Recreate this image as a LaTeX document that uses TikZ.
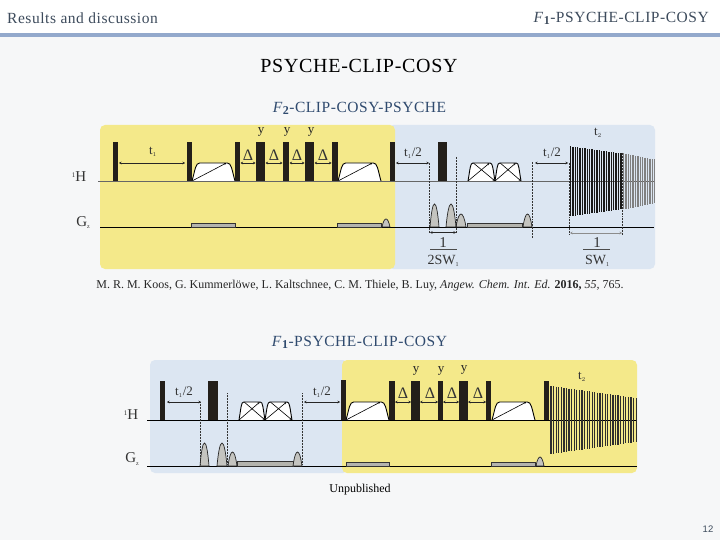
\documentclass[tikz,border=0pt]{standalone}
\usepackage{fontspec}
\usetikzlibrary{arrows.meta}
\setmainfont{Liberation Serif}
\newfontfamily\lsans{Liberation Sans}
\newfontfamily\spaced[LetterSpace=3.5]{Liberation Serif}
\definecolor{pageb}{HTML}{F6F7F8}
\definecolor{band}{HTML}{93A9CC}
\definecolor{headc}{HTML}{3D4B5C}
\definecolor{titc}{HTML}{2F4A6E}
\definecolor{yel}{HTML}{F4E98A}
\definecolor{blu}{HTML}{DCE6F2}
\definecolor{pul}{HTML}{231F1A}
\definecolor{gry}{HTML}{B4B4AE}
\definecolor{lobefill}{HTML}{C4C4C0}
\definecolor{lab}{HTML}{333333}
\tikzset{
 panel/.style={rounded corners=5pt,draw=none},
 pulsebar/.style={fill=pul,draw=none},
 baseh/.style={draw=black!60,line width=.8pt},
 baseg/.style={draw=black,line width=.8pt},
 gradbox/.style={fill=gry,draw=black!80,line width=.6pt},
 lobe/.style={fill=lobefill,draw=black!85,line width=.7pt},
 dimarrow/.style={{Stealth[length=2.5pt,width=2.5pt]}-{Stealth[length=2.5pt,width=2.5pt]},line width=.6pt,draw=black!85},
 dots/.style={densely dotted,line width=.5pt,draw=black!80},
 lbl/.style={text=lab,inner sep=0pt,font=\fontsize{13}{14}\selectfont},
 lblb/.style={text=lab,inner sep=0pt,font=\fontsize{15}{16}\selectfont},
 lbly/.style={text=black!85,inner sep=0pt,font=\fontsize{13}{13}\selectfont},
 lbld/.style={text=lab,inner sep=0pt,font=\fontsize{16}{16}\selectfont},
 lblsw/.style={text=lab,inner sep=0pt,font=\fontsize{14}{14}\selectfont},
 headtxt/.style={inner sep=0pt,font=\spaced\fontsize{15.5}{16}\selectfont},
}
% \chirpA{x1}{x2}{top}{base}
\newcommand{\chirpA}[4]{%
 \pgfmathsetmacro{\cw}{#2-#1}%
 \fill[white] (#1,#4) .. controls (#1+.08*\cw,#3+6) and (#1+.08*\cw,#3) .. (#1+.18*\cw,#3) -- (#2-.18*\cw,#3) .. controls (#2-.08*\cw,#3) and (#2-.08*\cw,#3+6) .. (#2,#4) -- cycle;
 \draw[black,line width=.9pt] (#1,#4) .. controls (#1+.08*\cw,#3+6) and (#1+.08*\cw,#3) .. (#1+.18*\cw,#3) -- (#2-.18*\cw,#3) .. controls (#2-.08*\cw,#3) and (#2-.08*\cw,#3+6) .. (#2,#4);
 \draw[black,line width=.6pt,-{Stealth[length=2.5pt,width=2pt]}] (#1,#4) -- (#2-.2*\cw,#3);}
\newcommand{\chirpX}[4]{%
 \chirpA{#1}{#2}{#3}{#4}%
 \pgfmathsetmacro{\cw}{#2-#1}%
 \draw[black,line width=.6pt,-{Stealth[length=2.5pt,width=2pt]}] (#1+.2*\cw,#3) -- (#2,#4);}
% \lobeS{x1}{x2}{top}{base}
\newcommand{\lobeS}[4]{%
 \pgfmathsetmacro{\cy}{#4-(#4-#3)*4/3}%
 \pgfmathsetmacro{\cw}{#2-#1}%
 \filldraw[lobe] (#1,#4) .. controls (#1+.28*\cw,\cy) and (#2-.28*\cw,\cy) .. (#2,#4) -- cycle;}
\newcommand{\Fone}[1]{\textit{F}\raisebox{-.3ex}{\textbf{\fontsize{12}{12}\selectfont #1}}}
\begin{document}
\begin{tikzpicture}[x=1pt,y=-1pt]
\useasboundingbox (0,0) rectangle (720,540);
\fill[white] (0,0) rectangle (720,33);
\fill[pageb] (0,33) rectangle (720,540);
\fill[band] (0,33) rectangle (720,37);
\node[anchor=west,text=headc,headtxt] (hleft) at (7,18) {Results and discussion};
\node[anchor=east,text=headc,headtxt] (hright) at (709,18) {\Fone{1}-PSYCHE-CLIP-COSY};
\node[inner sep=0pt,text=black,font=\spaced\fontsize{20}{20}\selectfont] (title) at (359,66) {PSYCHE-CLIP-COSY};
\node[text=titc,headtxt] (t2) at (359.5,108) {\Fone{2}-CLIP-COSY-PSYCHE};
\node[inner sep=0pt,text=black!85,font=\fontsize{12}{13}\selectfont] (cite) at (360,286) {M. R. M. Koos, G. Kummerlöwe, L. Kaltschnee, C. M. Thiele, B. Luy, \textit{Angew. Chem. Int. Ed.} \textbf{2016,} \textit{55,} 765.};
\node[text=titc,headtxt] (t1) at (359.5,342) {\Fone{1}-PSYCHE-CLIP-COSY};
\node[inner sep=0pt,text=black,font=\fontsize{12}{13}\selectfont] (unp) at (360,490) {Unpublished};
\node[inner sep=0pt,text=headc,font=\lsans\fontsize{9.5}{10}\selectfont] (pg) at (708,529) {12};

%% ---------- top diagram
\fill[blu,panel] (388,125) rectangle (655,269);
\fill[yel,panel] (100,125) rectangle (395,269);
\chirpA{192}{235}{163}{181}
\chirpA{338}{381}{163}{181}
\chirpX{468}{495}{163}{181}
\chirpX{495}{521}{163}{181}
\draw[baseh] (98,181) -- (655,181);
\draw[baseg] (100,227) -- (654,227);
\foreach \a/\b in {113/118,186.5/191.5,235/240,256/265,283/289,305/314,332/337.5,390/395,438/447}
  \fill[pulsebar] (\a,142) rectangle (\b,181);
\filldraw[gradbox] (191.5,223) rectangle (235,227);
\filldraw[gradbox] (337.5,223) rectangle (381,227);
\filldraw[gradbox] (467,223) rectangle (522,227);
\lobeS{382}{390}{219}{227}
\lobeS{430}{439}{204}{227}
\lobeS{446}{456}{204}{227}
\lobeS{456}{466}{214}{227}
\lobeS{523}{532}{214}{227}
\foreach \a/\b in {119/185,240.5/255.5,265.5/282.5,289.5/304.5,314.5/331.5,396/429,535/568}
  \draw[dimarrow] (\a,163) -- (\b,163);
\draw[dots] (429,163) -- (429,233);
\draw[dots] (456,157) -- (456,233);
\draw[dots] (532,162) -- (532,238);
\draw[dots] (569,163) -- (569,235);
\draw[dots] (622,153) -- (622,235);
% FID top
\foreach \i in {0,...,21}{
  \pgfmathsetmacro{\xx}{570.5+2.4*\i}
  \pgfmathsetmacro{\hh}{35-7*\i/21}
  \draw[black!90,line width=1.4pt] (\xx,181.5-\hh) -- (\xx,181.5+\hh);}
\foreach \i in {0,...,13}{
  \pgfmathsetmacro{\xx}{623.5+2.4*\i}
  \pgfmathsetmacro{\hh}{28-6*\i/13}
  \draw[black!50,line width=1.3pt] (\xx,181.5-\hh) -- (\xx,181.5+\hh);}
\node[lbl] (a1) at (153,152) {t$_{\scriptscriptstyle 1}$};
\foreach \x/\n in {248/1,274/2,297/3,323/4}
  \node[lbld] (d\n) at (\x,155) {Δ};
\foreach \x/\n in {261/1,287/2,311/3}
  \node[lbly] (y\n) at (\x,132) {y};
\node[lblb] (h1) at (79,177) {\raisebox{.7ex}{\fontsize{7}{7}\selectfont 1}H};
\node[lblb] (g1) at (83,223) {G\raisebox{-.3ex}{\fontsize{6}{6}\selectfont z}};
\node[lbl] (a2) at (413,153) {t$_{\scriptscriptstyle 1}$/2};
\node[lbl] (a3) at (552,153) {t$_{\scriptscriptstyle 1}$/2};
\node[lbl] (a4) at (598,133) {t$_{\scriptscriptstyle 2}$};
\draw[dimarrow] (430,232.5) -- (456,232.5);
\draw[dimarrow,draw=black!45] (570,233) -- (622,233);
\node[lblb] (o1) at (443,243) {1};
\draw[black!70,line width=.7pt] (430,249.5) -- (457,249.5);
\node[lblsw] (sw1) at (443,261) {2SW\raisebox{-.3ex}{\fontsize{6}{6}\selectfont 1}};
\node[lblb] (o2) at (597,243) {1};
\draw[black!70,line width=.7pt] (583,249.5) -- (610,249.5);
\node[lblsw] (sw2) at (597,261) {SW\raisebox{-.3ex}{\fontsize{6}{6}\selectfont 1}};

%% ---------- bottom diagram
\fill[blu,panel] (150,360) rectangle (348,473);
\fill[yel,panel] (342,360) rectangle (637,473);
\chirpX{239}{265}{402}{420}
\chirpX{265}{292}{402}{420}
\chirpA{346}{389}{402}{420}
\chirpA{492}{535}{402}{420}
\draw[baseg] (147,420) -- (636,420);
\draw[baseg] (147,466) -- (637,466);
\foreach \a/\b in {160/165,208/218,389/395,411/420,438/443,459/468,486/491,544/549}
  \fill[pulsebar] (\a,381) rectangle (\b,420);
\fill[pulsebar] (341,380) rectangle (346,420);
\filldraw[gradbox] (237,461) rectangle (293,466);
\filldraw[gradbox] (346,462) rectangle (389,466);
\filldraw[gradbox] (491,462) rectangle (535,466);
\lobeS{200}{209}{443}{466}
\lobeS{217}{227}{443}{466}
\lobeS{228}{237}{452}{466}
\lobeS{293}{302}{452}{466}
\lobeS{536}{544}{457}{466}
\foreach \a/\b in {167/201,304/340,395/411,420/438,443/459,468/486}
  \draw[dimarrow] (\a,402) -- (\b,402);
\draw[dots] (200,402) -- (200,465);
\draw[dots] (227,393) -- (227,465);
\draw[dots] (302,393) -- (302,465);
\foreach \i in {0,...,33}{
  \pgfmathsetmacro{\xx}{551+2.58*\i}
  \pgfmathsetmacro{\hh}{34-12*\i/33}
  \draw[black!82,line width=1.2pt] (\xx,420-\hh) -- (\xx,420+\hh);}
\node[lbl] (b1) at (184,392) {t$_{\scriptscriptstyle 1}$/2};
\node[lbl] (b2) at (322,392) {t$_{\scriptscriptstyle 1}$/2};
\node[lbl] (b3) at (582,377) {t$_{\scriptscriptstyle 2}$};
\foreach \x/\n in {403/1,430/2,452/3,478/4}
  \node[lbld] (e\n) at (\x,393) {Δ};
\foreach \x/\yy/\n in {416/371/1,441/371/2,464/370/3}
  \node[lbly] (z\n) at (\x,\yy) {y};
\node[lblb] (h2) at (131,415) {\raisebox{.7ex}{\fontsize{7}{7}\selectfont 1}H};
\node[lblb] (g2) at (132,459) {G\raisebox{-.3ex}{\fontsize{6}{6}\selectfont z}};
\end{tikzpicture}
\end{document}
